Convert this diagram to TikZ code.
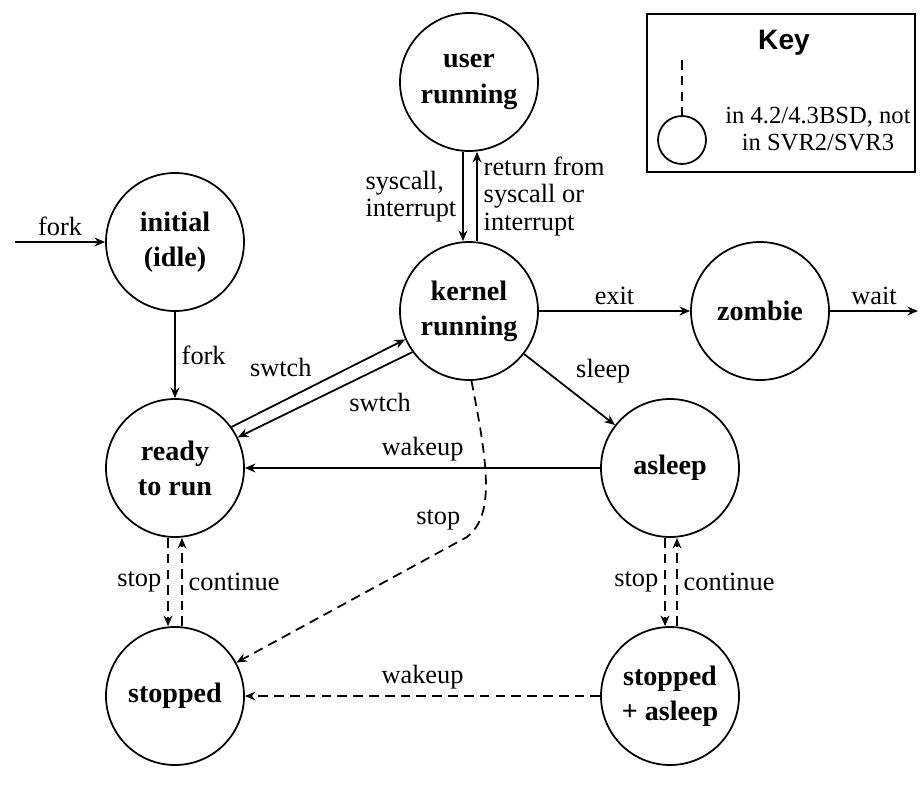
\documentclass[tikz,border=0pt]{standalone}
\usepackage{fontspec}
\setmainfont{Liberation Serif}
\setsansfont{Liberation Sans}
\usetikzlibrary{arrows.meta}

\begin{document}
\begin{tikzpicture}[
        >={Stealth[length=6pt,width=5pt]},
        every node/.style={align=center, font=\fontsize{15}{15.5}\selectfont},
        state/.style={circle, draw, line width=1pt, minimum size=2.76cm, inner sep=0pt, font=\fontsize{16}{20}\selectfont\bfseries},
        trans/.style={->, line width=1pt},
        stoptrans/.style={->, line width=1pt, dash pattern=on 5.5pt off 3.5pt},
        keybox/.style={rectangle, draw, line width=1pt, minimum width=5.36cm, minimum height=3.16cm}
    ]
        \useasboundingbox (0,0) rectangle (18.4,-16.1);

        \node[state] (user)     at (9.38,  -1.64) {user\\running};
        \node[state] (init)     at (3.5,   -4.84) {initial\\(idle)};
        \node[state] (kernel)   at (9.38,  -6.22) {kernel\\running};
        \node[state] (zombie)   at (15.2,  -6.22) {zombie};
        \node[state] (ready)    at (3.5,   -9.36) {ready\\to run};
        \node[state] (asleep)   at (13.4,  -9.36) {asleep};
        \node[state] (stopped)  at (3.5,  -13.92) {stopped};
        \node[state] (stasleep) at (13.4, -13.92) {stopped\\+ asleep};

        \coordinate (forkin)  at (0.3,  -4.84);
        \coordinate (waitout) at (18.36, -6.22);
        \coordinate (kbend)   at (9.34, -10.74);

        \draw[trans] (forkin) -- node[above] {fork} (init);
        \draw[trans] (init) -- node[right] {fork} (ready);
        \draw[trans] ([xshift=-0.12cm]user.south) -- node[left, align=left] {syscall,\\interrupt} ([xshift=-0.12cm]kernel.north);
        \draw[trans] ([xshift=0.16cm]kernel.north) -- node[right, align=left] {return from\\syscall or\\interrupt} ([xshift=0.16cm]user.south);
        \draw[trans] (kernel) -- node[above] {exit} (zombie);
        \draw[trans] (zombie) -- node[above] {wait} (waitout);
        \draw[trans] (kernel) -- node[above right] {sleep} (asleep);
        \draw[trans] (ready.36) -- node[above left] {swtch} (kernel.204);
        \draw[trans] (kernel.216) -- node[below right, pos=0.4] {swtch} (ready.26);
        \draw[trans] (asleep) -- node[above] {wakeup} (ready);

        \draw[stoptrans] (kernel.272) .. controls (9.76,-9.3) and (9.9,-10.3) .. (kbend) node[above left] {stop} -- (stopped);
        \draw[stoptrans] ([xshift=-0.14cm]ready.south) -- node[left] {stop} ([xshift=-0.14cm]stopped.north);
        \draw[stoptrans] ([xshift=0.14cm]stopped.north) -- node[right] {continue} ([xshift=0.14cm]ready.south);
        \draw[stoptrans] ([xshift=-0.1cm]asleep.south) -- node[left] {stop} ([xshift=-0.1cm]stasleep.north);
        \draw[stoptrans] ([xshift=0.14cm]stasleep.north) -- node[right] {continue} ([xshift=0.14cm]asleep.south);
        \draw[stoptrans] (stasleep) -- node[above] {wakeup} (stopped);

        \node[keybox] (key) at (15.62, -1.86) {};
        \node[font=\sffamily\bfseries\fontsize{16}{16}\selectfont] at (15.68, -0.86) {Key};
        \node[circle, draw, line width=1pt, minimum size=0.96cm] (keycirc) at (13.64, -2.8) {};
        \coordinate (keytop) at (13.64, -1.2);
        \draw[line width=1pt, dash pattern=on 5.5pt off 3.5pt] (keytop) -- (keycirc);
        \node[font=\fontsize{14}{15.5}\selectfont] at (16.36, -2.58) {in 4.2/4.3BSD, not\\in SVR2/SVR3};
    \end{tikzpicture}
\end{document}
